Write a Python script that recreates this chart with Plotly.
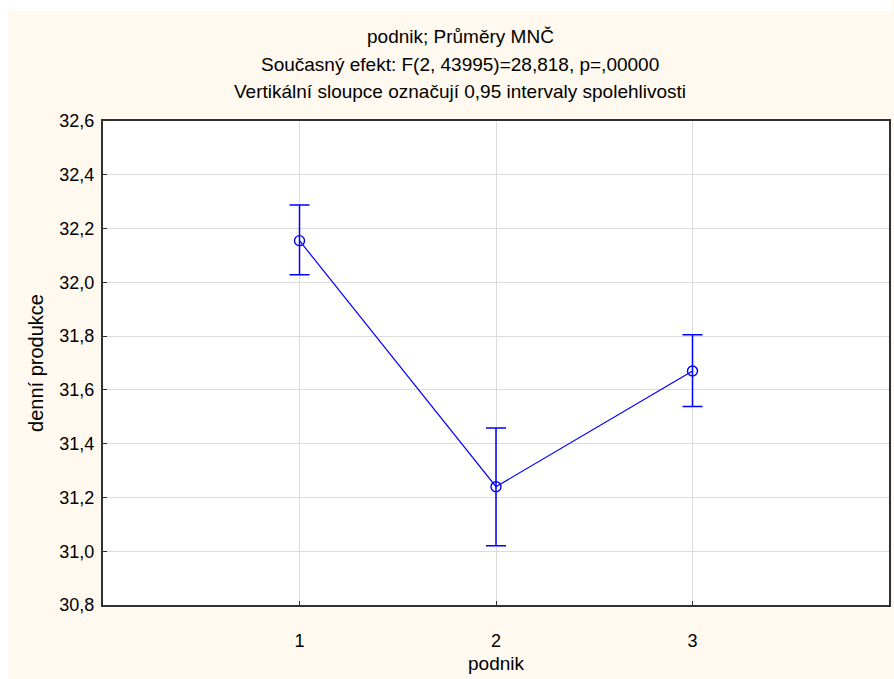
import plotly.graph_objects as go

podnik = [1, 2, 3]
means = [32.155, 31.240, 31.670]
upper = [32.288, 31.458, 31.805]
lower = [32.028, 31.020, 31.538]

title_lines = [
    "podnik; Průměry MNČ",
    "Současný efekt: F(2, 43995)=28,818, p=,00000",
    "Vertikální sloupce označují 0,95 intervaly spolehlivosti",
]
y_ticks = [30.8, 31.0, 31.2, 31.4, 31.6, 31.8, 32.0, 32.2, 32.4, 32.6]
y_ticktext = [f"{v:.1f}".replace(".", ",") for v in y_ticks]
x_ticks = [1, 2, 3]

W, H = 894, 679
L, R, T, B = 103, 3, 121, 74
pw, ph = W - L - R, H - T - B

err_plus = [u - m for u, m in zip(upper, means)]
err_minus = [m - l for m, l in zip(means, lower)]

fig = go.Figure()
fig.add_trace(go.Scatter(
    x=podnik, y=means, mode="lines+markers",
    line=dict(color="#0000FF", width=1.2),
    marker=dict(symbol="circle-open", size=10, color="#0000FF", line=dict(width=1.4)),
    error_y=dict(type="data", symmetric=False, array=err_plus, arrayminus=err_minus,
                 color="#0000FF", thickness=1.5, width=10),
    showlegend=False,
))

fam = "Liberation Sans, Arial, sans-serif"
title_font = dict(family=fam, size=19, color="#000000")
tick_font = dict(family=fam, size=18, color="#000000")

annotations = []
for i, t in enumerate(title_lines):
    ypix = 37 + 27 * i
    annotations.append(dict(
        text=t, xref="paper", yref="paper",
        x=(461 - L) / pw, y=(H - B - ypix) / ph,
        showarrow=False, xanchor="center", yanchor="middle", font=title_font,
    ))

shapes = [
    dict(type="rect", xref="paper", yref="paper", x0=-L / pw, x1=(W - L) / pw,
         y0=(H - B - 11) / ph, y1=(H - B) / ph + 1, fillcolor="white", line=dict(width=0)),
    dict(type="rect", xref="paper", yref="paper", x0=-L / pw - 0.01, x1=(8 - L) / pw,
         y0=-B / ph - 0.01, y1=(H - B) / ph + 1, fillcolor="white", line=dict(width=0)),
]

fig.update_layout(
    width=W, height=H,
    margin=dict(l=L, r=R, t=T, b=B, pad=0),
    paper_bgcolor="#FFF9EF", plot_bgcolor="white",
    font=tick_font,
    annotations=annotations, shapes=shapes,
    xaxis=dict(
        range=[0, 4], tickmode="array", tickvals=x_ticks, ticktext=[str(v) for v in x_ticks],
        showgrid=True, gridcolor="#DCDCDC", gridwidth=1,
        showline=True, linecolor="#303030", linewidth=2, mirror=True,
        ticks="inside", ticklen=4, tickcolor="#303030", tickfont=tick_font,
        title=dict(text="podnik", standoff=7, font=title_font),
        zeroline=False, ticklabelstandoff=18,
    ),
    yaxis=dict(
        range=[30.8, 32.6], tickmode="array", tickvals=y_ticks, ticktext=y_ticktext,
        showgrid=True, gridcolor="#DCDCDC", gridwidth=1,
        showline=True, linecolor="#303030", linewidth=2, mirror=True,
        ticks="inside", ticklen=4, tickcolor="#303030", tickfont=tick_font,
        title=dict(text="denní produkce", standoff=10, font=dict(family=fam, size=20, color="#000000")),
        zeroline=False, ticklabelstandoff=3,
    ),
)

fig.write_html("out.html")
